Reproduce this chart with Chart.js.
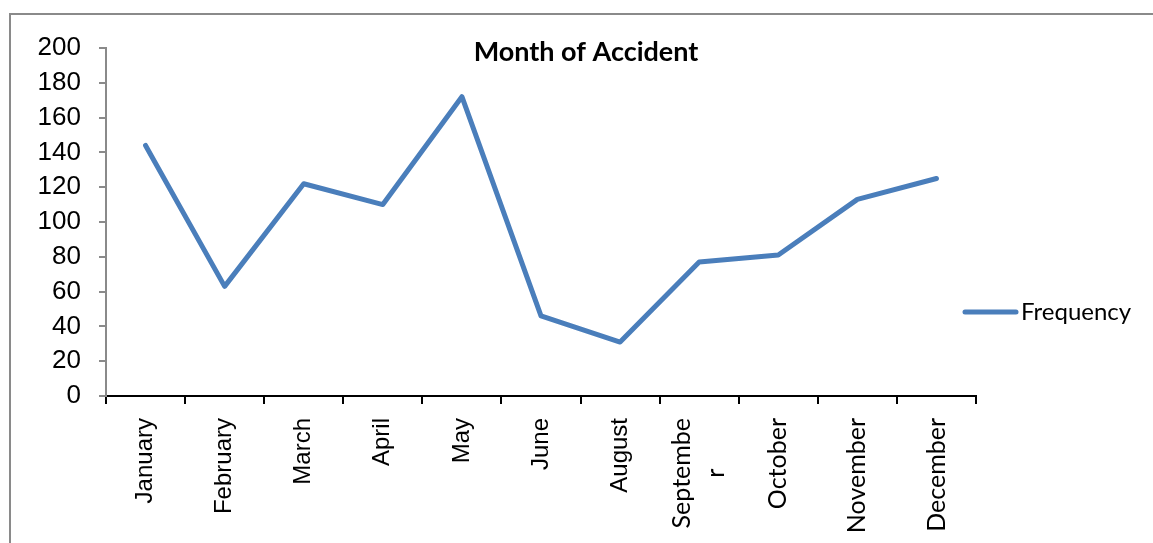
<!DOCTYPE html>
<html>
<head>
<meta charset="utf-8">
<script src="https://cdn.jsdelivr.net/npm/chart.js@4/dist/chart.umd.min.js"></script>
<style>
html,body{margin:0;padding:0;background:#fff;}
canvas{display:block;}
</style>
</head>
<body>
<canvas id="c" width="1153" height="543"></canvas>
<script>
const categories = ["January","February","March","April","May","June","August",["Septembe","r"],"October","November","December"];
const frequency = [144, 63, 122, 110, 172, 46, 31, 77, 81, 113, 125];
const yTicks = [0,20,40,60,80,100,120,140,160,180,200];
const seriesName = "Frequency";
const chartTitle = "Month of Accident";

const LINE_COLOR = "#4A7EBB";
const ARIAL = "'Liberation Sans', Arial, sans-serif";
const CALIBRI = "Lato, 'Open Sans', sans-serif";

const decor = {
  id: "decor",
  beforeDraw(chart) {
    const ctx = chart.ctx;
    ctx.save();
    ctx.fillStyle = "#fff";
    ctx.fillRect(0, 0, chart.width, chart.height);
    ctx.strokeStyle = "#8a8a8a";
    ctx.lineWidth = 2;
    ctx.strokeRect(10, 14, 1170, 560);
    ctx.restore();
    // center multi-line rotated x labels like the reference
    const xs = chart.scales.x;
    const items = xs.getLabelItems();
    items.forEach(it => {
      if (Array.isArray(it.label) && it.label.length > 1) {
        const n = it.label.length;
        const lh = it.font.lineHeight;
        ctx.save();
        ctx.font = it.font.string;
        const w = Math.max(...it.label.map(s => ctx.measureText(s).width));
        ctx.restore();
        if (!it._adj) {
          it.options.translation = [it.options.translation[0] - (n - 1) * lh / 2, it.options.translation[1] + w / 2];
          it.options.textAlign = "center";
          it._adj = true;
        }
      }
    });
  },
  afterDraw(chart) {
    const ctx = chart.ctx;
    ctx.save();
    ctx.fillStyle = "#000";
    ctx.font = "bold 27px " + CALIBRI;
    ctx.textAlign = "center";
    ctx.textBaseline = "middle";
    ctx.fillText(chartTitle, 586, 52);
    // legend
    ctx.strokeStyle = LINE_COLOR;
    ctx.lineWidth = 5;
    ctx.lineCap = "round";
    ctx.beginPath();
    ctx.moveTo(965, 312);
    ctx.lineTo(1016, 312);
    ctx.stroke();
    ctx.font = "24px " + CALIBRI;
    ctx.textAlign = "left";
    ctx.fillText(seriesName, 1021, 312);
    ctx.restore();
  }
};

new Chart(document.getElementById("c"), {
  type: "line",
  data: {
    labels: categories,
    datasets: [{
      label: seriesName,
      data: frequency,
      borderColor: LINE_COLOR,
      backgroundColor: LINE_COLOR,
      borderWidth: 5,
      borderCapStyle: "round",
      borderJoinStyle: "round",
      pointRadius: 0,
      tension: 0,
      fill: false
    }]
  },
  options: {
    responsive: false,
    animation: false,
    devicePixelRatio: 1,
    layout: { padding: { top: 48, right: 177, left: 0, bottom: 0 } },
    plugins: { legend: { display: false }, title: { display: false }, tooltip: { enabled: false } },
    scales: {
      x: {
        type: "category",
        offset: true,
        afterFit(s) { s.height = 147; },
        grid: { offset: true, drawOnChartArea: false, drawTicks: true, tickLength: 8, color: "#000", lineWidth: 2 },
        border: { display: true, color: "#000", width: 2 },
        ticks: { minRotation: 90, maxRotation: 90, autoSkip: false, padding: 14, color: "#000",
                 font: (c) => (c.index >= 7
                   ? { family: CALIBRI, size: 25, lineHeight: "34px" }
                   : { family: ARIAL, size: 24 }) }
      },
      y: {
        min: 0, max: 200,
        afterFit(s) { s.width = 106; },
        afterBuildTicks(s) { s.ticks = yTicks.map(v => ({ value: v })); },
        grid: { drawOnChartArea: false, drawTicks: true, tickLength: 7, color: "#8a8a8a", lineWidth: 2 },
        border: { display: true, color: "#8a8a8a", width: 2 },
        ticks: { padding: 18, color: "#000", font: { family: ARIAL, size: 26 } }
      }
    }
  },
  plugins: [decor]
});
</script>
</body>
</html>
